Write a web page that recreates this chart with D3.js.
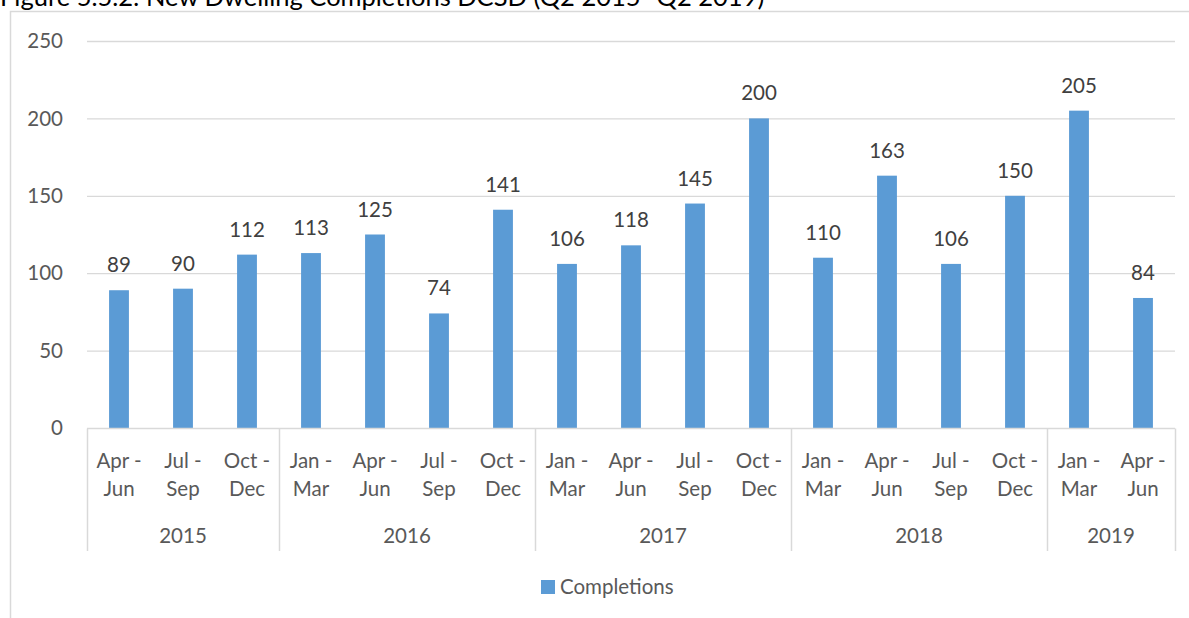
<!DOCTYPE html>
<html>
<head>
<meta charset="utf-8">
<script src="https://cdn.jsdelivr.net/npm/d3@7"></script>
<style>
  body { margin: 0; background: #fff; }
  text { font-family: Lato, "Open Sans", sans-serif; }
</style>
</head>
<body>
<div id="chart"></div>
<script>
// quarter labels (two lines each), year groups and values
const quarters = [
  ["Apr -", "Jun"], ["Jul -", "Sep"], ["Oct -", "Dec"],
  ["Jan -", "Mar"], ["Apr -", "Jun"], ["Jul -", "Sep"], ["Oct -", "Dec"],
  ["Jan -", "Mar"], ["Apr -", "Jun"], ["Jul -", "Sep"], ["Oct -", "Dec"],
  ["Jan -", "Mar"], ["Apr -", "Jun"], ["Jul -", "Sep"], ["Oct -", "Dec"],
  ["Jan -", "Mar"], ["Apr -", "Jun"]
];
const years = ["2015", "2016", "2017", "2018", "2019"];
const yearCounts = [3, 4, 4, 4, 2];
const completions = [89, 90, 112, 113, 125, 74, 141, 106, 118, 145, 200, 110, 163, 106, 150, 205, 84];
const yTicks = [0, 50, 100, 150, 200, 250];

const width = 1189, height = 618;
const margin = { left: 87, right: 14, top: 41, bottom: 190 };
const fs = 20.5;

const svg = d3.select("#chart").append("svg")
  .attr("width", width)
  .attr("height", height);

// title, partly cut off at the top
svg.append("text")
  .attr("x", 0)
  .attr("y", 6)
  .attr("font-size", 25.5)
  .attr("fill", "#000")
  .text("Figure 5.5.2: New Dwelling Completions DCSD (Q2 2015- Q2 2019)");

// chart frame
svg.append("path")
  .attr("d", "M10.5," + (height + 2) + "V11.5H" + (width + 2))
  .attr("fill", "none")
  .attr("stroke", "#d9d9d9")
  .attr("stroke-width", 1.5);

const x = d3.scaleBand()
  .domain(d3.range(completions.length))
  .range([margin.left, width - margin.right])
  .paddingInner(0.69)
  .paddingOuter(0.345);

const y = d3.scaleLinear()
  .domain([0, 250])
  .range([428, margin.top]);

// gridlines
svg.append("g")
  .selectAll("line")
  .data(yTicks.filter(d => d > 0))
  .join("line")
  .attr("x1", margin.left)
  .attr("x2", width - margin.right)
  .attr("y1", d => y(d) + 0.5)
  .attr("y2", d => y(d) + 0.5)
  .attr("stroke", "#d9d9d9")
  .attr("stroke-width", 1.3);

// y tick labels
svg.append("g")
  .selectAll("text")
  .data(yTicks)
  .join("text")
  .attr("x", 63)
  .attr("y", d => y(d))
  .attr("dy", "0.35em")
  .attr("text-anchor", "end")
  .attr("font-size", fs)
  .attr("fill", "#595959")
  .text(d => d);

// bars
svg.append("g")
  .selectAll("rect")
  .data(completions)
  .join("rect")
  .attr("x", (d, i) => x(i))
  .attr("width", x.bandwidth())
  .attr("y", d => y(d))
  .attr("height", d => y(0) - y(d))
  .attr("fill", "#5b9bd5");

// data labels
svg.append("g")
  .selectAll("text")
  .data(completions)
  .join("text")
  .attr("x", (d, i) => x(i) + x.bandwidth() / 2)
  .attr("y", d => y(d) - 18)
  .attr("text-anchor", "middle")
  .attr("font-size", fs)
  .attr("fill", "#404040")
  .text(d => d);

// category axis
const step = x.step();
const x0 = margin.left, axisY = y(0) + 0.5;
svg.append("line")
  .attr("x1", x0).attr("x2", width - margin.right)
  .attr("y1", axisY).attr("y2", axisY)
  .attr("stroke", "#d9d9d9").attr("stroke-width", 1.5);

const qLabels = svg.append("g")
  .selectAll("text")
  .data(quarters)
  .join("text")
  .attr("text-anchor", "middle")
  .attr("font-size", fs)
  .attr("fill", "#595959");
qLabels.append("tspan")
  .attr("x", (d, i) => x(i) + x.bandwidth() / 2)
  .attr("y", 468)
  .text(d => d[0]);
qLabels.append("tspan")
  .attr("x", (d, i) => x(i) + x.bandwidth() / 2)
  .attr("y", 496)
  .text(d => d[1]);

// year groups
const starts = yearCounts.map((c, i) => d3.sum(yearCounts.slice(0, i)));
const bounds = starts.concat([completions.length]);
svg.append("g")
  .selectAll("line")
  .data(bounds)
  .join("line")
  .attr("x1", d => Math.round(x0 + d * step) + 0.5)
  .attr("x2", d => Math.round(x0 + d * step) + 0.5)
  .attr("y1", axisY)
  .attr("y2", 551)
  .attr("stroke", "#d9d9d9")
  .attr("stroke-width", 1.5);

svg.append("g")
  .selectAll("text")
  .data(years)
  .join("text")
  .attr("x", (d, i) => x0 + (starts[i] + yearCounts[i] / 2) * step)
  .attr("y", 543)
  .attr("text-anchor", "middle")
  .attr("font-size", fs)
  .attr("fill", "#595959")
  .text(d => d);

// legend
const legend = svg.append("g").attr("transform", "translate(541, 580)");
legend.append("rect")
  .attr("width", 14).attr("height", 14)
  .attr("fill", "#5b9bd5");
legend.append("text")
  .attr("x", 19)
  .attr("y", 7)
  .attr("dy", "0.35em")
  .attr("font-size", fs)
  .attr("fill", "#595959")
  .text("Completions");
</script>
</body>
</html>
